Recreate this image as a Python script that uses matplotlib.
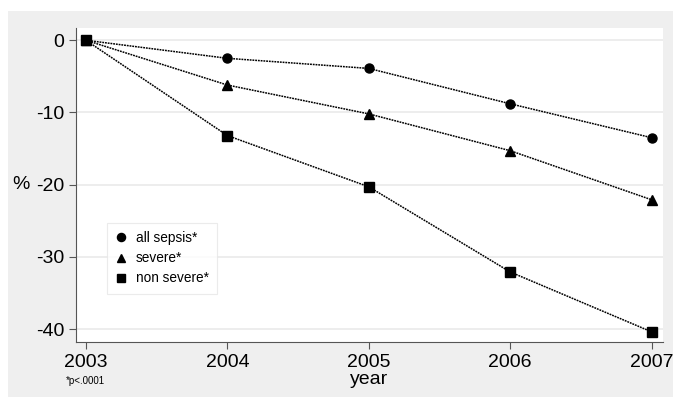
import matplotlib.pyplot as plt

plt.rcParams['font.family'] = ['Liberation Sans', 'DejaVu Sans']
plt.rcParams['axes.unicode_minus'] = False

years = [2003, 2004, 2005, 2006, 2007]
all_sepsis = [0, -2.5, -3.9, -8.8, -13.5]
severe = [0, -6.2, -10.2, -15.3, -22.1]
non_severe = [0, -13.2, -20.3, -32.1, -40.4]
yticks = [0, -10, -20, -30, -40]

fig = plt.figure(figsize=(6.75, 3.98), dpi=100)
fig.patch.set_facecolor('white')

# gray panel behind plot (Stata style)
bg = fig.add_axes([8 / 675, 1 - 397 / 398, 665 / 675, 386 / 398], zorder=-1)
bg.set_facecolor('#efefef')
bg.set_xticks([])
bg.set_yticks([])
for s in bg.spines.values():
    s.set_visible(False)

ax = fig.add_axes([76 / 675, 1 - 342 / 398, 587 / 675, 314 / 398])
ax.set_facecolor('white')

ls = (0, (1.2, 0.6))
ax.plot(years, all_sepsis, color='black', lw=1.1, ls=ls, marker='o', ms=6.5,
        label='all sepsis*', zorder=3)
ax.plot(years, severe, color='black', lw=1.1, ls=ls, marker='^', ms=7,
        label='severe*', zorder=3)
ax.plot(years, non_severe, color='black', lw=1.1, ls=ls, marker='s', ms=6.5,
        label='non severe*', zorder=3)

ax.set_xlim(2002.93, 2007.08)
ax.set_ylim(-41.8, 1.7)
ax.set_yticks(yticks)
ax.set_xticks(years)
ax.tick_params(labelsize=14, length=5, color='#555555')
ax.grid(axis='y', color='#eaeaea', lw=1.2)
ax.set_axisbelow(True)
for s in ['top', 'right']:
    ax.spines[s].set_visible(False)
for s in ['left', 'bottom']:
    ax.spines[s].set_color('#555555')

ax.set_xlabel('year', fontsize=14, labelpad=0)
ax.set_ylabel('%', fontsize=14, rotation=0, va='center')
ax.yaxis.set_label_coords(-0.093, 0.5)

leg = ax.legend(loc='upper left', bbox_to_anchor=(31 / 587, 1 - 195 / 314),
                borderaxespad=0, frameon=True, fancybox=False, fontsize=9.8,
                handlelength=0.8, handletextpad=0.7, borderpad=0.6,
                labelspacing=0.45, markerscale=0.9)
leg.get_frame().set_edgecolor('#e6e6e6')
leg.get_frame().set_linewidth(0.8)
for h in leg.legend_handles:
    h.set_linestyle('none')

fig.text(66 / 675, 1 - 381 / 398, '*p<.0001', fontsize=7, va='center')

fig.savefig('out.png', dpi=100)
